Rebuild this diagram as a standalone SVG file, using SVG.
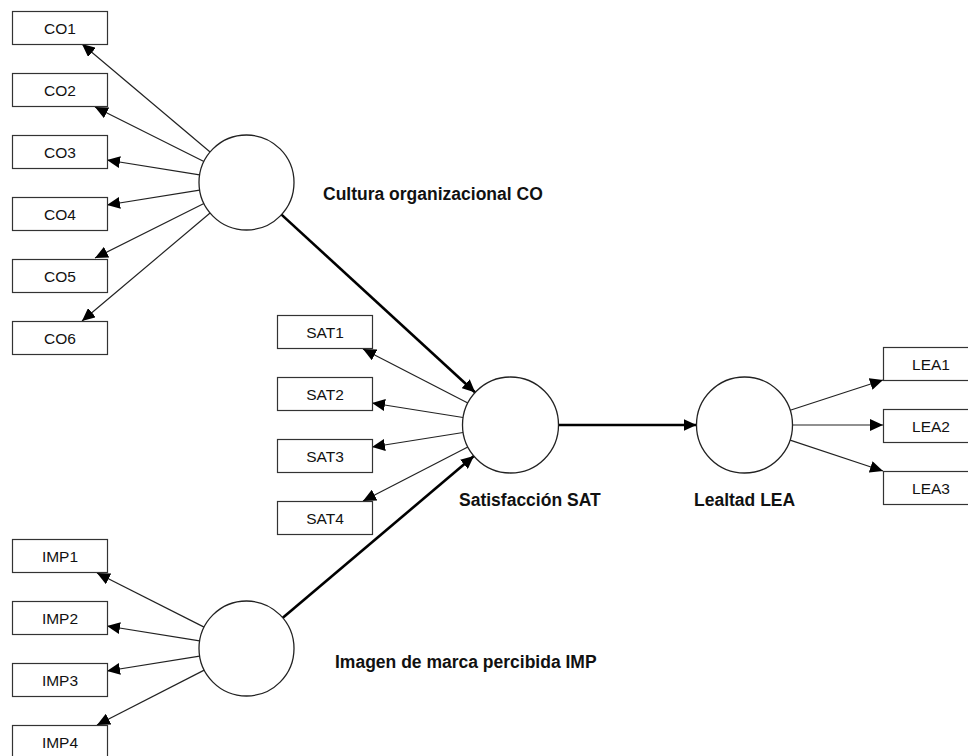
<svg xmlns="http://www.w3.org/2000/svg" width="968" height="756" viewBox="0 0 968 756">
<defs>
<marker id="ah" markerUnits="userSpaceOnUse" markerWidth="13" markerHeight="12" refX="13" refY="6" orient="auto">
<path d="M0,0 L13,6 L0,12 z" fill="#000"/>
</marker>
<style>
.box{fill:#fff;stroke:#333;stroke-width:1.2}
.lat{fill:#fff;stroke:#222;stroke-width:1.3}
.bt{font-family:"Liberation Sans",Arial,sans-serif;font-size:15.5px;fill:#111;text-anchor:middle}
.lt{font-family:"Liberation Sans",Arial,sans-serif;font-size:17.5px;font-weight:bold;fill:#111}
.thin{stroke:#222;stroke-width:1.2;fill:none;marker-end:url(#ah)}
.thick{stroke:#000;stroke-width:2.6;fill:none;marker-end:url(#ah)}
</style>
</defs>
<rect width="968" height="756" fill="#fff"/>
<g id="connectors">
<line class="thin" x1="210.1" y1="152" x2="82" y2="44"/>
<line class="thin" x1="203.9" y1="161.5" x2="95" y2="107"/>
<line class="thin" x1="199.6" y1="174.9" x2="107" y2="160"/>
<line class="thin" x1="199.6" y1="190.1" x2="107" y2="205"/>
<line class="thin" x1="203.9" y1="203.5" x2="95" y2="258"/>
<line class="thin" x1="210.1" y1="213" x2="82" y2="321"/>
<line class="thin" x1="467.8" y1="403" x2="363" y2="349"/>
<line class="thin" x1="463.1" y1="417.5" x2="372" y2="403"/>
<line class="thin" x1="463.1" y1="432.5" x2="372" y2="447"/>
<line class="thin" x1="467.8" y1="447" x2="363" y2="501"/>
<line class="thin" x1="204.1" y1="627.1" x2="97" y2="573"/>
<line class="thin" x1="199.6" y1="640.9" x2="107" y2="626"/>
<line class="thin" x1="199.6" y1="656.1" x2="107" y2="671"/>
<line class="thin" x1="204.2" y1="670.1" x2="97" y2="725"/>
<line class="thin" x1="790.2" y1="410.2" x2="883" y2="380"/>
<line class="thin" x1="792.5" y1="425" x2="883" y2="425"/>
<line class="thin" x1="790.1" y1="440.1" x2="883" y2="471"/>
<line class="thick" x1="281.5" y1="214.6" x2="475.2" y2="392.5"/>
<line class="thick" x1="282.8" y1="617.8" x2="473.9" y2="456"/>
<line class="thick" x1="558.5" y1="425" x2="696.5" y2="425"/>
</g>
<g id="CO"><circle class="lat" cx="246.5" cy="182.5" r="47.5"/><text class="lt" x="323" y="200">Cultura organizacional CO</text></g>
<g id="SAT"><circle class="lat" cx="510.5" cy="425" r="48"/><text class="lt" x="459" y="506">Satisfacción SAT</text></g>
<g id="LEA"><circle class="lat" cx="744.5" cy="425" r="48"/><text class="lt" x="694" y="506">Lealtad LEA</text></g>
<g id="IMP"><circle class="lat" cx="246.5" cy="648.5" r="47.5"/><text class="lt" x="335" y="668">Imagen de marca percibida IMP</text></g>
<g id="CO1"><rect class="box" x="12.5" y="11.5" width="95" height="33"/><text class="bt" x="60" y="33.5">CO1</text></g>
<g id="CO2"><rect class="box" x="12.5" y="73.5" width="95" height="33"/><text class="bt" x="60" y="95.5">CO2</text></g>
<g id="CO3"><rect class="box" x="12.5" y="135.5" width="95" height="33"/><text class="bt" x="60" y="157.5">CO3</text></g>
<g id="CO4"><rect class="box" x="12.5" y="197.5" width="95" height="33"/><text class="bt" x="60" y="219.5">CO4</text></g>
<g id="CO5"><rect class="box" x="12.5" y="259.5" width="95" height="33"/><text class="bt" x="60" y="281.5">CO5</text></g>
<g id="CO6"><rect class="box" x="12.5" y="321.5" width="95" height="33"/><text class="bt" x="60" y="343.5">CO6</text></g>
<g id="SAT1"><rect class="box" x="277.5" y="315.5" width="95" height="33"/><text class="bt" x="325" y="337.5">SAT1</text></g>
<g id="SAT2"><rect class="box" x="277.5" y="377.5" width="95" height="33"/><text class="bt" x="325" y="399.5">SAT2</text></g>
<g id="SAT3"><rect class="box" x="277.5" y="439.5" width="95" height="33"/><text class="bt" x="325" y="461.5">SAT3</text></g>
<g id="SAT4"><rect class="box" x="277.5" y="501.5" width="95" height="33"/><text class="bt" x="325" y="523.5">SAT4</text></g>
<g id="IMP1"><rect class="box" x="12.5" y="539.5" width="95" height="33"/><text class="bt" x="60" y="561.5">IMP1</text></g>
<g id="IMP2"><rect class="box" x="12.5" y="601.5" width="95" height="33"/><text class="bt" x="60" y="623.5">IMP2</text></g>
<g id="IMP3"><rect class="box" x="12.5" y="663.5" width="95" height="33"/><text class="bt" x="60" y="685.5">IMP3</text></g>
<g id="IMP4"><rect class="box" x="12.5" y="725.5" width="95" height="33"/><text class="bt" x="60" y="747.5">IMP4</text></g>
<g id="LEA1"><rect class="box" x="883.5" y="347.5" width="95" height="33"/><text class="bt" x="931" y="369.5">LEA1</text></g>
<g id="LEA2"><rect class="box" x="883.5" y="409.5" width="95" height="33"/><text class="bt" x="931" y="431.5">LEA2</text></g>
<g id="LEA3"><rect class="box" x="883.5" y="471.5" width="95" height="33"/><text class="bt" x="931" y="493.5">LEA3</text></g>
</svg>
